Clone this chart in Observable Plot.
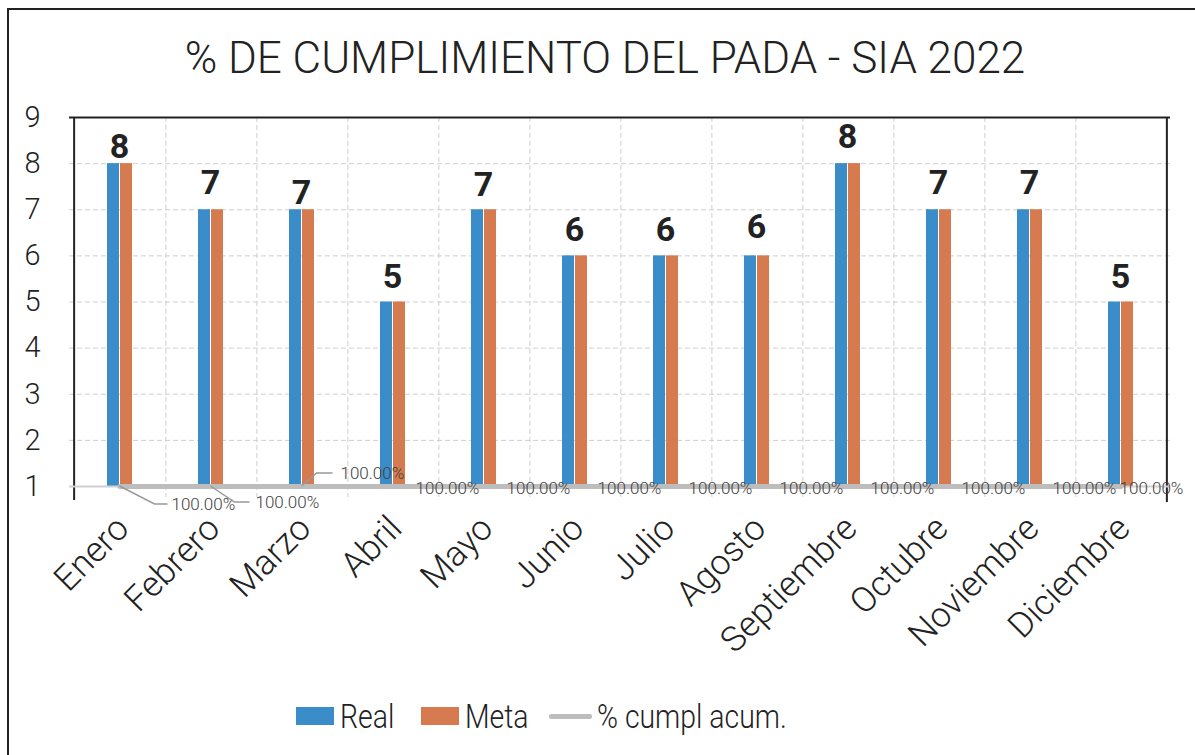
<!DOCTYPE html>
<html>
<head>
<meta charset="utf-8">
<script src="https://cdn.jsdelivr.net/npm/d3@7"></script>
<script src="https://cdn.jsdelivr.net/npm/@observablehq/plot@0.6"></script>
<style>
  html, body { margin: 0; padding: 0; background: #fff; }
  body { width: 1195px; height: 755px; position: relative; overflow: hidden; font-family: "Roboto", sans-serif; color: #222; }
  #border { position: absolute; left: 7px; top: 8px; width: 1300px; height: 800px; border-left: 2px solid #222; border-top: 2px solid #222; }
  #title { position: absolute; left: 0; top: 31px; width: 1210px; text-align: center; font-size: 44px; font-weight: 300; line-height: 54px; color: #222; }
  #chart { position: absolute; left: 0; top: 100px; }
  #legend { position: absolute; left: 0; top: 697px; width: 1195px; height: 40px; font-size: 33px; font-weight: 300; }
  .sw { position: absolute; top: 10px; width: 38px; height: 18px; }
  .lt { position: absolute; top: 0; line-height: 40px; transform: scaleX(0.86); transform-origin: left center; white-space: nowrap; }
</style>
</head>
<body>
<div id="border"></div>
<div id="title">% DE CUMPLIMIENTO DEL PADA - SIA 2022</div>
<div id="chart"></div>
<div id="legend">
  <div class="sw" style="left:296px;background:#3a8dc8"></div><div class="lt" style="left:340px">Real</div>
  <div class="sw" style="left:421px;background:#d67a50"></div><div class="lt" style="left:465px">Meta</div>
  <div style="position:absolute;left:549px;top:17px;width:43px;height:5px;background:#bdbdbd;border-radius:2px"></div><div class="lt" style="left:597px">% cumpl acum.</div>
</div>
<script>
const months = ["Enero","Febrero","Marzo","Abril","Mayo","Junio","Julio","Agosto","Septiembre","Octubre","Noviembre","Diciembre"];
const real = [8,7,7,5,7,6,6,6,8,7,7,5];
const meta = [8,7,7,5,7,6,6,6,8,7,7,5];
const pctAcum = [100,100,100,100,100,100,100,100,100,100,100,100];
const yTicks = [1,2,3,4,5,6,7,8,9];

const BLUE = "#3a8dc8", ORANGE = "#d67a50", GRAY = "#bdbdbd";

const data = months.map((m, i) => ({month: m, real: real[i], meta: meta[i], pct: pctAcum[i]}));

// value label vertical gaps (style only)
const valueGap = [5, 15, 5, 14, 13, 14, 14, 17, 15, 15, 15, 14];

// percent label placement (style only)
const lblPos = [
  {dx: 52, dy: 18, anchor: "start", leader: [[35,18],[48,18]]},
  {dx: 45, dy: 16, anchor: "start", leader: [[24,16],[39,16]]},
  {dx: 39, dy: -13, anchor: "start", leader: [[15,-13],[31,-13]]},
  {dx: 55, dy: 2, anchor: "middle"},
  {dx: 55, dy: 2, anchor: "middle"},
  {dx: 55, dy: 2, anchor: "middle"},
  {dx: 55, dy: 2, anchor: "middle"},
  {dx: 55, dy: 2, anchor: "middle"},
  {dx: 55, dy: 2, anchor: "middle"},
  {dx: 55, dy: 2, anchor: "middle"},
  {dx: 55, dy: 2, anchor: "middle"},
  {dx: 31, dy: 2, anchor: "middle"}
];

function pctLabels(index, scales) {
  const g = d3.create("svg:g").attr("font-size", 17).attr("fill", "#404040").attr("font-weight", 300);
  const bw = scales.x.bandwidth();
  data.forEach((d, i) => {
    const cx = scales.x(d.month) + bw / 2;
    const cy = scales.y(d.pct / 100);
    const p = lblPos[i];
    if (p.leader) {
      const pts = [[cx, cy], ...p.leader.map(([a, b]) => [cx + a, cy + b])];
      g.append("path").attr("d", d3.line()(pts)).attr("fill", "none").attr("stroke", "#999").attr("stroke-width", 1.5);
    }
    g.append("text").attr("x", cx + p.dx).attr("y", cy + p.dy).attr("dy", "0.35em")
      .attr("text-anchor", p.anchor).text(d3.format(".2f")(d.pct) + "%");
  });
  return g.node();
}

function valueLabels(index, scales) {
  const g = d3.create("svg:g").attr("font-size", 34).attr("font-weight", "bold").attr("fill", "#222").attr("text-anchor", "middle");
  const bw = scales.x.bandwidth();
  data.forEach((d, i) => {
    g.append("text").attr("x", scales.x(d.month) + bw / 2).attr("y", scales.y(d.real) - valueGap[i]).text(String(d.real));
  });
  return g.node();
}

const half = 1101 / 24;
const plot = Plot.plot({
  width: 1195,
  height: 580,
  marginLeft: 69,
  marginRight: 25,
  marginTop: 17,
  marginBottom: 194,
  style: {fontFamily: "Roboto, sans-serif", background: "transparent"},
  x: {type: "band", domain: months, padding: 0, label: null},
  y: {domain: [1, 9], label: null},
  marks: [
    Plot.ruleY(yTicks.slice(1, -1), {stroke: "#cfcfcf", strokeDasharray: "5,3", strokeWidth: 1}),
    Plot.ruleX(months.slice(0, -1), {x: d => d, dx: half, y1: 9, y2: 1, insetBottom: -11, stroke: "#cfcfcf", strokeDasharray: "5,3", strokeWidth: 1}),
    Plot.barY(data, {x: "month", y1: 1, y2: "real", fill: BLUE, insetLeft: 33, insetRight: 46}),
    Plot.barY(data, {x: "month", y1: 1, y2: "meta", fill: ORANGE, insetLeft: 46, insetRight: 33}),
    Plot.ruleY([9], {stroke: "#222", strokeWidth: 2}),
    Plot.ruleX(["Enero"], {x: d => d, dx: -half, y1: 9, y2: 1, insetBottom: -14, stroke: "#222", strokeWidth: 2}),
    Plot.ruleX(["Diciembre"], {x: d => d, dx: half, y1: 9, y2: 1, insetBottom: -16, stroke: "#222", strokeWidth: 2}),
    Plot.ruleY([1], {stroke: "#d0d0d0", strokeWidth: 2}),
    Plot.lineY(data, {x: "month", y: d => d.pct / 100, stroke: GRAY, strokeWidth: 5}),
    pctLabels,
    valueLabels,
    Plot.axisY(yTicks, {tickSize: 0, tickPadding: 29, fontSize: 29, fontWeight: 300, fill: "#222"}),
    Plot.axisX({tickSize: 0, tickPadding: 36, dx: 3, tickRotate: -45, fontSize: 35, fontWeight: 300, fill: "#222", label: null})
  ]
});
document.getElementById("chart").appendChild(plot);
</script>
</body>
</html>
